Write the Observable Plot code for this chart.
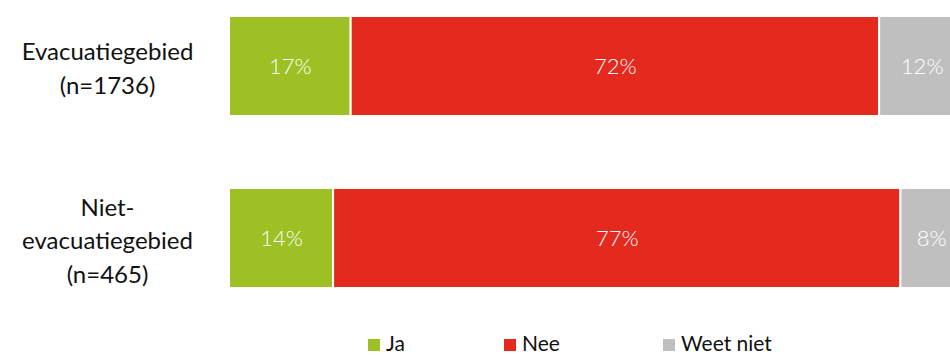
<!DOCTYPE html>
<html>
<head>
<meta charset="utf-8">
<script src="https://cdn.jsdelivr.net/npm/d3@7"></script>
<script src="https://cdn.jsdelivr.net/npm/@observablehq/plot@0.6"></script>
<style>
  html, body { margin: 0; padding: 0; background: #fff; overflow: hidden; width: 950px; height: 356px; }
  #chart svg { overflow: hidden; }
</style>
</head>
<body>
<div id="chart"></div>
<script>
const categories = ["Evacuatiegebied\n(n=1736)", "Niet-\nevacuatiegebied\n(n=465)"];
const answers = ["Ja", "Nee", "Weet niet"];
const colors = ["#9dc125", "#e4291e", "#bfbfbf"];
const valuesJa = [16.6, 14.2];
const valuesNee = [72.1, 77.4];
const valuesWeetNiet = [11.6, 8.4];
const labelsJa = ["17%", "14%"];
const labelsNee = ["72%", "77%"];
const labelsWeetNiet = ["12%", "8%"];

const series = [valuesJa, valuesNee, valuesWeetNiet];
const labels = [labelsJa, labelsNee, labelsWeetNiet];
const data = [];
categories.forEach((c, i) => {
  answers.forEach((a, j) => {
    data.push({cat: c, answer: a, value: series[j][i], label: labels[j][i]});
  });
});

const font = "Lato, 'Noto Sans', sans-serif";

const plot = Plot.plot({
  width: 950,
  height: 326,
  marginTop: 0,
  marginBottom: 22,
  marginLeft: 229,
  marginRight: 0,
  style: {fontFamily: font, background: "#fff"},
  x: {domain: [0, 100], range: [229, 962], axis: null},
  y: {domain: categories, paddingInner: 0.419, paddingOuter: 0.093, axis: null},
  color: {domain: answers, range: colors},
  marks: [
    Plot.barX(data, Plot.stackX({
      x: "value", y: "cat", fill: "answer", order: answers,
      stroke: "white", strokeWidth: 2
    })),
    Plot.text(data, Plot.stackX({
      x: "value", y: "cat", z: "answer", order: answers, text: "label",
      fill: "white", fontSize: 22, fontWeight: 300
    })),
    Plot.text(categories, {
      y: d => d, text: d => d, frameAnchor: "left", dx: -122,
      textAnchor: "middle", fontSize: 24, lineHeight: 1.4, fill: "#111", fontWeight: 400
    })
  ]
});
document.getElementById("chart").appendChild(plot);

// Legend below the chart
const legendX = [368, 504, 663];
const leg = d3.select("#chart").append("svg")
  .attr("width", 950).attr("height", 30)
  .style("display", "block").style("overflow", "hidden");
answers.forEach((a, i) => {
  const g = leg.append("g");
  g.append("rect").attr("x", legendX[i]).attr("y", 13).attr("width", 12).attr("height", 12).attr("fill", colors[i]);
  g.append("text").attr("x", legendX[i] + 18).attr("y", 25)
    .attr("font-family", font).attr("font-size", 21).attr("fill", "#111").text(a);
});
</script>
</body>
</html>
